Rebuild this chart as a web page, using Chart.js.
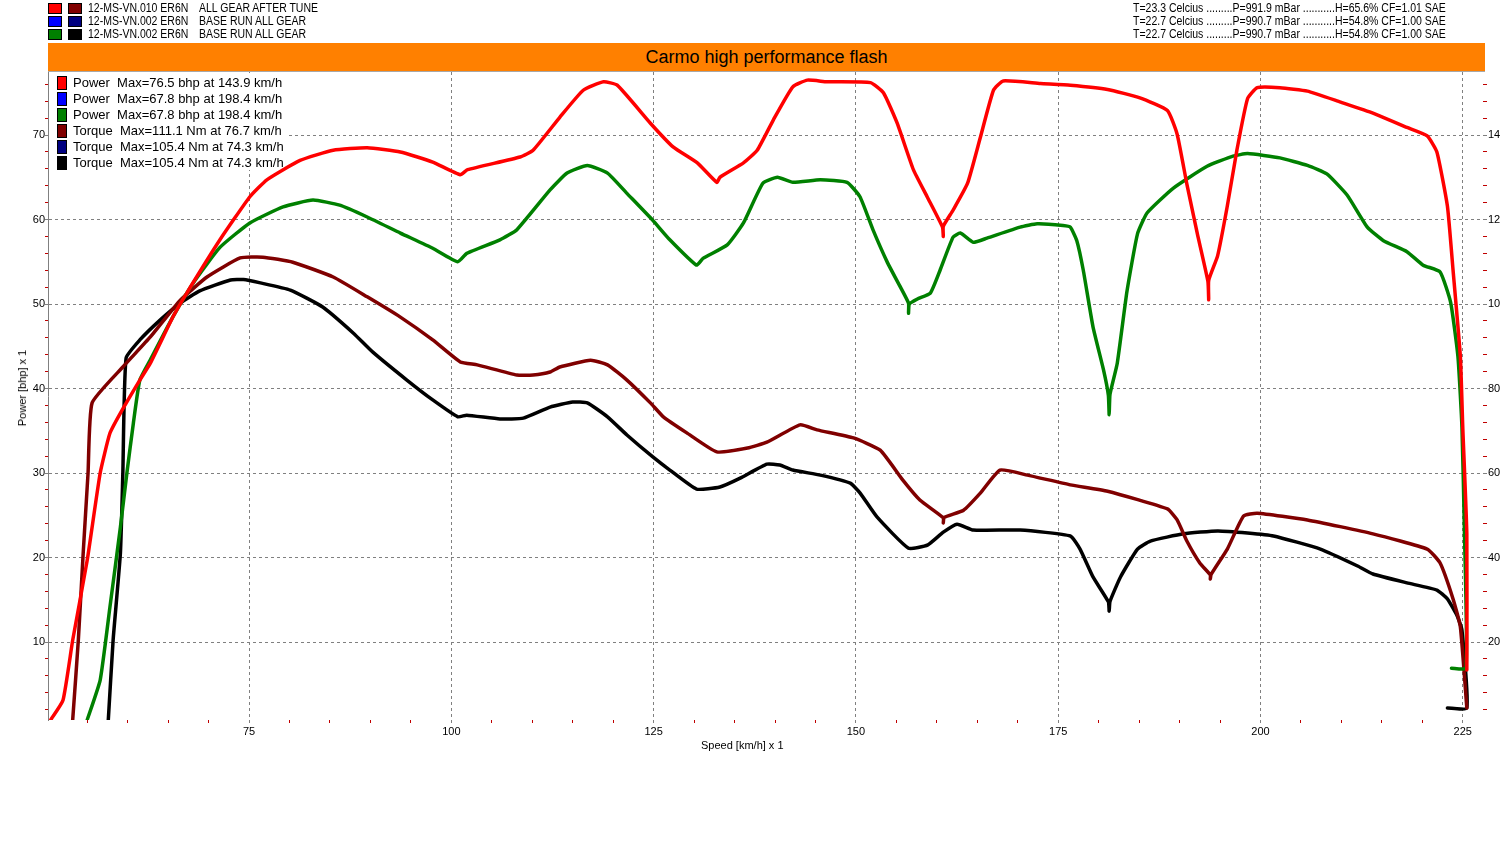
<!DOCTYPE html>
<html>
<head>
<meta charset="utf-8">
<title>Carmo high performance flash</title>
<script src="https://cdn.jsdelivr.net/npm/chart.js@4.4.1/dist/chart.umd.min.js"></script>
<style>
body { margin: 0; background: #fff; font-family: Arial, "Liberation Sans", sans-serif; color: #000; }
#wrap { position: relative; width: 1500px; height: 850px; overflow: hidden; }
#wrap canvas { position: absolute; left: 0; top: 0; }
.hdr { position: absolute; font-size: 12px; line-height: 13px; white-space: pre; transform-origin: 0 0; transform: scaleX(0.875); }
.sq { position: absolute; width: 12px; height: 9px; border: 1px solid #000; }
#band { position: absolute; left: 48px; top: 43px; width: 1437px; height: 28px; background: #ff8000; border-bottom: 1px solid #a8a8a8;
        font-size: 18px; line-height: 29px; text-align: center; }
.lg { position: absolute; left: 73px; font-size: 13px; line-height: 16px; white-space: pre; }
.lb { position: absolute; left: 57px; width: 8px; height: 12px; border: 1px solid #000; }
.axt { position: absolute; font-size: 11px; white-space: pre; }
</style>
</head>
<body>
<div id="wrap">
  <canvas id="dyno"></canvas>

  <div class="sq" style="left:48px;top:3px;background:#ff0000"></div>
  <div class="sq" style="left:68px;top:3px;background:#800000"></div>
  <div class="sq" style="left:48px;top:16px;background:#0000ff"></div>
  <div class="sq" style="left:68px;top:16px;background:#000080"></div>
  <div class="sq" style="left:48px;top:29px;background:#008000"></div>
  <div class="sq" style="left:68px;top:29px;background:#000000"></div>
  <div class="hdr" style="left:88px;top:2px">12-MS-VN.010 ER6N</div>
  <div class="hdr" style="left:199px;top:2px">ALL GEAR AFTER TUNE</div>
  <div class="hdr" style="left:88px;top:15px">12-MS-VN.002 ER6N</div>
  <div class="hdr" style="left:199px;top:15px">BASE RUN ALL GEAR</div>
  <div class="hdr" style="left:88px;top:28px">12-MS-VN.002 ER6N</div>
  <div class="hdr" style="left:199px;top:28px">BASE RUN ALL GEAR</div>
  <div class="hdr" style="left:1133px;top:2px">T=23.3 Celcius .........P=991.9 mBar ...........H=65.6% CF=1.01 SAE</div>
  <div class="hdr" style="left:1133px;top:15px">T=22.7 Celcius .........P=990.7 mBar ...........H=54.8% CF=1.00 SAE</div>
  <div class="hdr" style="left:1133px;top:28px">T=22.7 Celcius .........P=990.7 mBar ...........H=54.8% CF=1.00 SAE</div>

  <div id="band">Carmo high performance flash</div>

  <div id="legendItems"></div>

  <div class="axt" style="left:701px;top:739px">Speed [km/h] x 1</div>
  <div class="axt" style="left:22px;top:388px;transform:translate(-50%,-50%) rotate(-90deg)">Power [bhp] x 1</div>
</div>

<script>
// tick labels
var speedTicks = [75, 100, 125, 150, 175, 200, 225];
var powerTicks = [10, 20, 30, 40, 50, 60, 70];
var torqueTicks = [20, 40, 60, 80, 100, 120, 140];

// legend lines
var legendNames = [
  "Power  Max=76.5 bhp at 143.9 km/h",
  "Power  Max=67.8 bhp at 198.4 km/h",
  "Power  Max=67.8 bhp at 198.4 km/h",
  "Torque  Max=111.1 Nm at 76.7 km/h",
  "Torque  Max=105.4 Nm at 74.3 km/h",
  "Torque  Max=105.4 Nm at 74.3 km/h"
];
var legendColors = ["#ff0000", "#0000ff", "#008000", "#800000", "#000080", "#000000"];

// [km/h, bhp]  after tune
var tunePower = [[50.5,0.8],[52.0,3.1],[53.2,10.2],[55.0,19.7],[56.6,30.0],[57.8,34.7],[59.1,37.1],[61.5,41.0],
  [62.8,43.0],[65.6,48.5],[67.3,51.3],[71.4,57.6],[75.1,62.7],[77.2,64.7],[81.3,67.0],[85.4,68.2],[89.6,68.5],
  [93.7,68.0],[97.7,66.8],[101.1,65.3],[102.0,65.9],[108.5,67.4],[110.1,68.2],[113.4,72.1],[116.3,75.3],
  [118.8,76.3],[120.5,75.9],[124.6,71.4],[127.4,68.6],[130.4,66.7],[132.8,64.4],[133.2,65.0],[136.1,66.7],
  [137.8,68.2],[139.8,71.8],[142.2,75.7],[144.0,76.5],[146.4,76.3],[151.8,76.2],[153.4,75.0],[155.1,71.4],
  [157.1,65.9],[158.8,62.7],[160.7,59.1],[160.8,58.0],[160.8,59.2],[162.0,61.1],[163.8,64.3],[165.4,69.8],
  [167.0,75.3],[168.2,76.4],[172.8,76.1],[176.5,75.9],[181.1,75.4],[185.1,74.4],[188.5,72.9],[189.7,70.1],
  [190.9,64.2],[192.2,58.3],[193.5,52.7],[193.6,50.5],[193.6,52.8],[194.7,55.7],[195.9,61.6],[197.1,68.3],
  [198.4,74.3],[199.6,75.6],[202.4,75.6],[205.8,75.2],[209.9,73.9],[213.9,72.6],[218.1,70.9],[220.6,69.9],
  [221.8,68.0],[223.1,61.6],[223.8,54.0],[224.7,43.8],[225.0,35.4],[225.5,22.8],[225.5,6.7]];

// [km/h, Nm]  after tune
var tuneTorque = [[53.2,1.5],[53.9,20.5],[54.5,41.1],[55.1,60.0],[55.6,76.6],[59.4,85.1],[62.8,92.2],[66.5,100.9],
  [69.8,106.4],[73.9,110.9],[76.7,111.1],[80.4,109.9],[85.4,106.4],[89.6,101.7],[93.7,96.9],[97.7,91.5],
  [101.1,86.3],[103.2,85.6],[108.1,83.2],[110.1,83.2],[112.2,83.9],[113.4,85.1],[117.2,86.7],[119.3,85.6],
  [121.7,82.0],[124.6,76.6],[126.2,73.3],[129.1,69.5],[132.8,65.0],[136.6,65.9],[139.0,67.3],[143.1,71.4],
  [145.2,70.2],[149.7,68.3],[153.0,65.4],[155.8,58.3],[157.9,53.6],[160.8,49.4],[160.8,48.2],[160.9,49.5],
  [163.3,51.2],[165.4,55.3],[167.8,60.7],[171.2,59.5],[176.5,57.2],[181.1,55.7],[188.5,51.5],[189.7,48.9],
  [190.9,43.9],[192.5,38.7],[193.8,35.9],[193.8,34.9],[193.9,36.0],[195.9,42.0],[197.9,49.8],[199.6,50.5],
  [205.8,48.9],[213.9,45.6],[220.6,42.0],[222.2,38.7],[223.8,30.2],[224.7,23.6],[225.5,4.4]];

// [km/h, bhp]  base run
var basePower = [[55.0,0.8],[56.6,5.5],[57.8,14.1],[59.1,23.6],[59.9,30.0],[60.7,35.9],[61.5,41.0],[62.8,43.4],
  [65.6,48.5],[68.1,52.5],[71.4,56.7],[75.1,59.6],[79.2,61.5],[82.9,62.3],[86.2,61.7],[89.6,60.3],[93.7,58.4],
  [97.7,56.6],[100.8,55.0],[101.9,56.0],[106.0,57.6],[108.1,58.8],[112.2,63.5],[114.3,65.5],[116.8,66.4],
  [119.3,65.5],[121.7,63.1],[124.9,59.9],[127.0,57.6],[130.3,54.6],[131.1,55.4],[134.1,57.0],[136.1,59.6],
  [138.5,64.3],[140.3,65.0],[142.2,64.4],[145.6,64.7],[148.9,64.4],[150.5,62.7],[152.1,58.8],[153.9,54.9],
  [155.5,52.0],[156.5,50.1],[156.5,48.9],[156.6,50.0],[157.6,50.6],[159.2,51.3],[160.4,54.0],[162.0,57.9],
  [162.9,58.4],[164.5,57.3],[166.2,57.8],[170.3,59.1],[172.4,59.5],[175.6,59.3],[176.5,59.1],[177.3,57.5],
  [178.1,54.0],[179.3,47.3],[180.6,42.2],[181.2,39.2],[181.3,36.9],[181.4,39.3],[182.3,43.0],[183.5,51.5],
  [184.8,58.3],[186.0,60.8],[189.2,63.7],[193.4,66.3],[196.6,67.5],[198.4,67.8],[202.4,67.3],[205.8,66.4],
  [208.2,65.4],[210.7,62.9],[213.2,59.1],[215.2,57.5],[218.1,56.2],[220.1,54.6],[222.2,53.8],[223.5,50.2],
  [224.4,43.8],[224.9,35.4],[225.2,23.3],[225.4,6.9],[223.6,6.9]];

// [km/h, Nm]  base run
var baseTorque = [[57.6,1.5],[58.2,20.5],[59.1,41.1],[59.4,60.0],[59.8,87.2],[61.5,91.5],[64.0,96.2],[66.5,100.2],
  [68.9,103.1],[72.7,105.7],[74.3,105.8],[76.4,105.0],[80.1,103.3],[84.1,99.3],[87.9,93.1],[90.3,88.6],
  [94.5,82.0],[97.7,77.3],[100.8,73.3],[101.9,73.7],[106.0,72.8],[108.9,73.0],[112.2,75.6],[115.0,76.8],
  [116.8,76.6],[119.3,73.3],[121.7,69.0],[124.9,63.8],[127.0,60.7],[130.3,56.2],[133.2,56.7],[135.7,58.8],
  [139.0,62.1],[140.6,61.9],[142.2,60.7],[145.6,59.5],[149.3,57.6],[150.5,55.3],[152.6,49.6],[156.5,42.2],
  [158.9,43.0],[160.8,46.0],[162.5,47.9],[164.5,46.5],[170.3,46.5],[176.5,45.1],[177.7,42.0],[179.3,35.4],
  [181.2,29.5],[181.3,27.3],[181.4,29.6],[182.7,35.4],[184.8,42.0],[186.4,43.9],[190.5,45.6],[194.7,46.3],
  [198.4,45.8],[201.6,45.1],[207.4,42.0],[212.0,38.0],[213.9,36.1],[218.1,34.0],[221.8,32.3],[223.1,30.2],
  [224.3,26.2],[224.9,22.8],[225.5,4.4],[223.1,4.4]];

// legend inside the plot
var items = "";
for (var i = 0; i < legendNames.length; i++) {
  var rowTop = 76 + i * 16;
  items += '<div class="lb" style="top:' + rowTop + 'px;background:' + legendColors[i] + '"></div>';
  items += '<div class="lg" style="top:' + (rowTop - 1) + 'px">' + legendNames[i] + '</div>';
}
document.getElementById("legendItems").innerHTML = items;

function pts(arr) {
  return arr.map(function (p) { return { x: p[0], y: p[1] }; });
}

// minor ticks between the labelled ones
function steps(from, to, step) {
  var out = [];
  for (var v = from; v <= to + 1e-9; v += step) out.push({ value: Math.round(v * 100) / 100 });
  return out;
}

var grey = "#808080";
var minorRed = "#c00000";

// white box behind the legend text, under the curves but over the grid
var legendBox = {
  id: "legendBox",
  beforeDatasetsDraw: function (chart) {
    var c = chart.ctx;
    c.save();
    c.fillStyle = "#fff";
    c.fillRect(chart.chartArea.left + 1, chart.chartArea.top + 1, 239, 97);
    c.restore();
  }
};

var ctx = document.getElementById("dyno");
ctx.width = 1500; ctx.height = 850;
ctx.style.width = "1500px"; ctx.style.height = "850px";

var myChart = new Chart(ctx, {
  type: "line",
  data: {
    datasets: [
      { data: pts(tunePower), yAxisID: "power", borderColor: "#ff0000" },
      { data: pts(basePower), yAxisID: "power", borderColor: "#008000" },
      { data: pts(tuneTorque), yAxisID: "torque", borderColor: "#800000" },
      { data: pts(baseTorque), yAxisID: "torque", borderColor: "#000000" }
    ]
  },
  plugins: [legendBox],
  options: {
    responsive: false,
    animation: false,
    parsing: false,
    layout: { padding: { top: 72, left: 0, right: 0, bottom: 110 } },
    elements: {
      point: { radius: 0 },
      line: { borderWidth: 3.5, tension: 0.15, fill: false, borderJoinStyle: "round", borderCapStyle: "round" }
    },
    plugins: { legend: { display: false }, tooltip: { enabled: false }, title: { display: false } },
    scales: {
      x: {
        type: "linear", min: 50.15, max: 227.5,
        afterBuildTicks: function (s) { s.ticks = steps(55, 225, 5); },
        afterFit: function (s) { s.height = 20; },
        border: { display: false, dash: [3, 3] },
        grid: {
          color: function (c) { return speedTicks.indexOf(c.tick.value) >= 0 ? grey : "rgba(0,0,0,0)"; },
          tickColor: function (c) { return speedTicks.indexOf(c.tick.value) >= 0 ? grey : minorRed; },
          tickLength: 3
        },
        ticks: {
          autoSkip: false, maxRotation: 0, padding: 2, color: "#000",
          font: { family: "Arial, 'Liberation Sans', sans-serif", size: 11 },
          callback: function (v) { return speedTicks.indexOf(v) >= 0 ? String(v) : ""; }
        }
      },
      power: {
        type: "linear", position: "left", min: 0.77, max: 77.46,
        afterBuildTicks: function (s) { s.ticks = steps(2, 76, 2); },
        afterFit: function (s) { s.width = 48; },
        border: { display: true, color: grey, width: 1, dash: [3, 3] },
        grid: {
          color: function (c) { return powerTicks.indexOf(c.tick.value) >= 0 ? grey : "rgba(0,0,0,0)"; },
          tickColor: function (c) { return powerTicks.indexOf(c.tick.value) >= 0 ? grey : minorRed; },
          tickLength: 3
        },
        ticks: {
          autoSkip: false, padding: 0, color: "#000",
          font: { family: "Arial, 'Liberation Sans', sans-serif", size: 11 },
          callback: function (v) { return powerTicks.indexOf(v) >= 0 ? String(v) : ""; }
        }
      },
      torque: {
        type: "linear", position: "right", min: 1.54, max: 154.92,
        afterBuildTicks: function (s) { s.ticks = steps(4, 152, 4); },
        afterFit: function (s) { s.width = 17; },
        border: { display: false },
        grid: {
          drawOnChartArea: false,
          tickColor: function (c) { return torqueTicks.indexOf(c.tick.value) >= 0 ? grey : minorRed; },
          tickLength: 4
        },
        ticks: {
          autoSkip: false, padding: 1, color: "#000",
          font: { family: "Arial, 'Liberation Sans', sans-serif", size: 11 },
          callback: function (v) { return torqueTicks.indexOf(v) >= 0 ? String(v) : ""; }
        }
      }
    }
  }
});
</script>
</body>
</html>
